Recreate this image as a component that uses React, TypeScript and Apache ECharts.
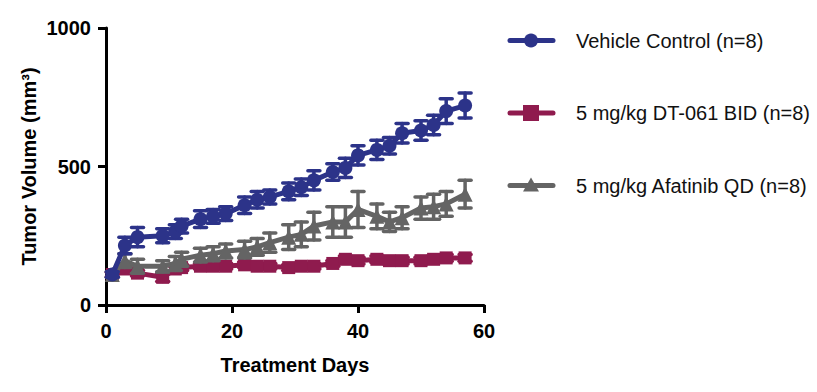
import React, { useEffect, useRef } from "react";
import * as echarts from "echarts";

const days = [1, 3, 5, 9, 11, 12, 15, 17, 19, 22, 24, 26, 29, 31, 33, 36, 38, 40, 43, 45, 47, 50, 52, 54, 57];
const vehicle = [110, 215, 245, 250, 265, 285, 310, 320, 330, 360, 380, 390, 410, 425, 450, 480, 495, 540, 560, 575, 620, 630, 650, 700, 720];
const vehicleErr = [10, 30, 35, 25, 25, 25, 30, 25, 25, 30, 30, 25, 30, 30, 35, 30, 35, 35, 35, 30, 35, 35, 35, 45, 45];
const dt061 = [110, 130, 115, 100, 130, 135, 140, 140, 140, 145, 140, 140, 135, 140, 140, 150, 165, 160, 165, 160, 160, 160, 165, 170, 170];
const dt061Err = [8, 10, 10, 15, 10, 10, 10, 10, 10, 10, 10, 10, 10, 10, 10, 10, 12, 12, 12, 12, 12, 12, 12, 12, 12];
const afatinib = [110, 160, 140, 140, 150, 165, 180, 185, 195, 200, 210, 225, 245, 255, 285, 300, 300, 345, 320, 300, 315, 350, 355, 365, 400];
const afatinibErr = [10, 25, 25, 20, 25, 25, 25, 25, 25, 30, 30, 35, 45, 45, 50, 55, 55, 65, 45, 35, 40, 40, 45, 45, 50];

const names = ["Vehicle Control (n=8)", "5 mg/kg DT-061 BID (n=8)", "5 mg/kg Afatinib QD (n=8)"];
const colors = ["#2c3389", "#8f1b4e", "#646464"];
const symbols = ["circle", "rect", "triangle"];

const FONT = "'Liberation Sans', Arial, Helvetica, sans-serif";

function errSeries(name: string, vals: number[], errs: number[], color: string, z: number) {
  return {
    type: "custom",
    name: name + " err",
    z,
    data: days.map((d, i) => [d, vals[i], errs[i]]),
    encode: { x: 0, y: 1 },
    renderItem: (params: any, api: any) => {
      const x = api.value(0);
      const y = api.value(1);
      const e = api.value(2);
      const hi = api.coord([x, y + e]);
      const lo = api.coord([x, y - e]);
      const hw = 6;
      const style = { stroke: color, lineWidth: 3.5, lineCap: "round" };
      return {
        type: "group",
        children: [
          { type: "line", shape: { x1: hi[0], y1: hi[1], x2: lo[0], y2: lo[1] }, style },
          { type: "line", shape: { x1: hi[0] - hw, y1: hi[1], x2: hi[0] + hw, y2: hi[1] }, style },
          { type: "line", shape: { x1: lo[0] - hw, y1: lo[1], x2: lo[0] + hw, y2: lo[1] }, style },
        ],
      };
    },
  };
}

function lineSeries(idx: number, vals: number[], z: number, size: number) {
  return {
    type: "line",
    name: names[idx],
    z,
    data: days.map((d, i) => [d, vals[i]]),
    symbol: symbols[idx],
    symbolSize: size,
    lineStyle: { color: colors[idx], width: 5 },
    itemStyle: { color: colors[idx] },
    color: colors[idx],
  };
}

function legendGraphics() {
  const out: any[] = [];
  const x0 = 510;
  const x1 = 553;
  const cx = 531;
  names.forEach((n, i) => {
    const y = 40.5 + i * 72.5;
    const c = colors[i];
    out.push({
      type: "line",
      shape: { x1: x0, y1: y, x2: x1, y2: y },
      style: { stroke: c, lineWidth: 5, lineCap: "round" },
    });
    if (i === 0) {
      out.push({ type: "circle", shape: { cx, cy: y, r: 7 }, style: { fill: c } });
    } else if (i === 1) {
      out.push({ type: "rect", shape: { x: cx - 8, y: y - 8, width: 16, height: 16 }, style: { fill: c } });
    } else {
      out.push({
        type: "polygon",
        shape: { points: [[cx, y - 8], [cx + 8, y + 6], [cx - 8, y + 6]] },
        style: { fill: c },
      });
    }
    out.push({
      type: "text",
      x: 576,
      y,
      style: { text: n, fontFamily: FONT, fontSize: 20, fill: "#111", verticalAlign: "middle", align: "left" },
    });
  });
  return out;
}

export default function App() {
  const ref = useRef<HTMLDivElement>(null);
  useEffect(() => {
    if (!ref.current) return;
    const chart = echarts.init(ref.current, undefined, { renderer: "svg" });
    chart.setOption({
      animation: false,
      backgroundColor: "#ffffff",
      grid: { left: 106, right: 333, top: 28, bottom: 87, containLabel: false },
      graphic: legendGraphics(),
      xAxis: {
        type: "value",
        min: 0,
        max: 60,
        interval: 20,
        name: "Treatment Days",
        nameLocation: "middle",
        nameGap: 50,
        nameTextStyle: { fontFamily: FONT, fontSize: 20, fontWeight: "bold", color: "#000" },
        axisLine: { show: true, lineStyle: { color: "#000", width: 3 } },
        axisTick: { show: true, length: 8, lineStyle: { color: "#000", width: 3 } },
        axisLabel: { fontFamily: FONT, fontSize: 20, fontWeight: "bold", color: "#000", margin: 16, formatter: (v: number) => String(v) },
        splitLine: { show: false },
      },
      yAxis: {
        type: "value",
        min: 0,
        max: 1000,
        interval: 500,
        name: "Tumor Volume (mm³)",
        nameLocation: "middle",
        nameGap: 67,
        nameTextStyle: { fontFamily: FONT, fontSize: 20, fontWeight: "bold", color: "#000" },
        axisLine: { show: true, lineStyle: { color: "#000", width: 3 } },
        axisTick: { show: true, length: 8, lineStyle: { color: "#000", width: 3 } },
        axisLabel: { fontFamily: FONT, fontSize: 20, fontWeight: "bold", color: "#000", margin: 15, formatter: (v: number) => String(v) },
        splitLine: { show: false },
      },
      series: [
        errSeries(names[1], dt061, dt061Err, colors[1], 1),
        lineSeries(1, dt061, 2, 13),
        errSeries(names[2], afatinib, afatinibErr, colors[2], 3),
        lineSeries(2, afatinib, 4, 15),
        errSeries(names[0], vehicle, vehicleErr, colors[0], 5),
        lineSeries(0, vehicle, 6, 14),
      ],
    });
    return () => chart.dispose();
  }, []);
  return <div ref={ref} style={{ position: "fixed", left: 0, top: 0, width: 817, height: 392 }} />;
}
